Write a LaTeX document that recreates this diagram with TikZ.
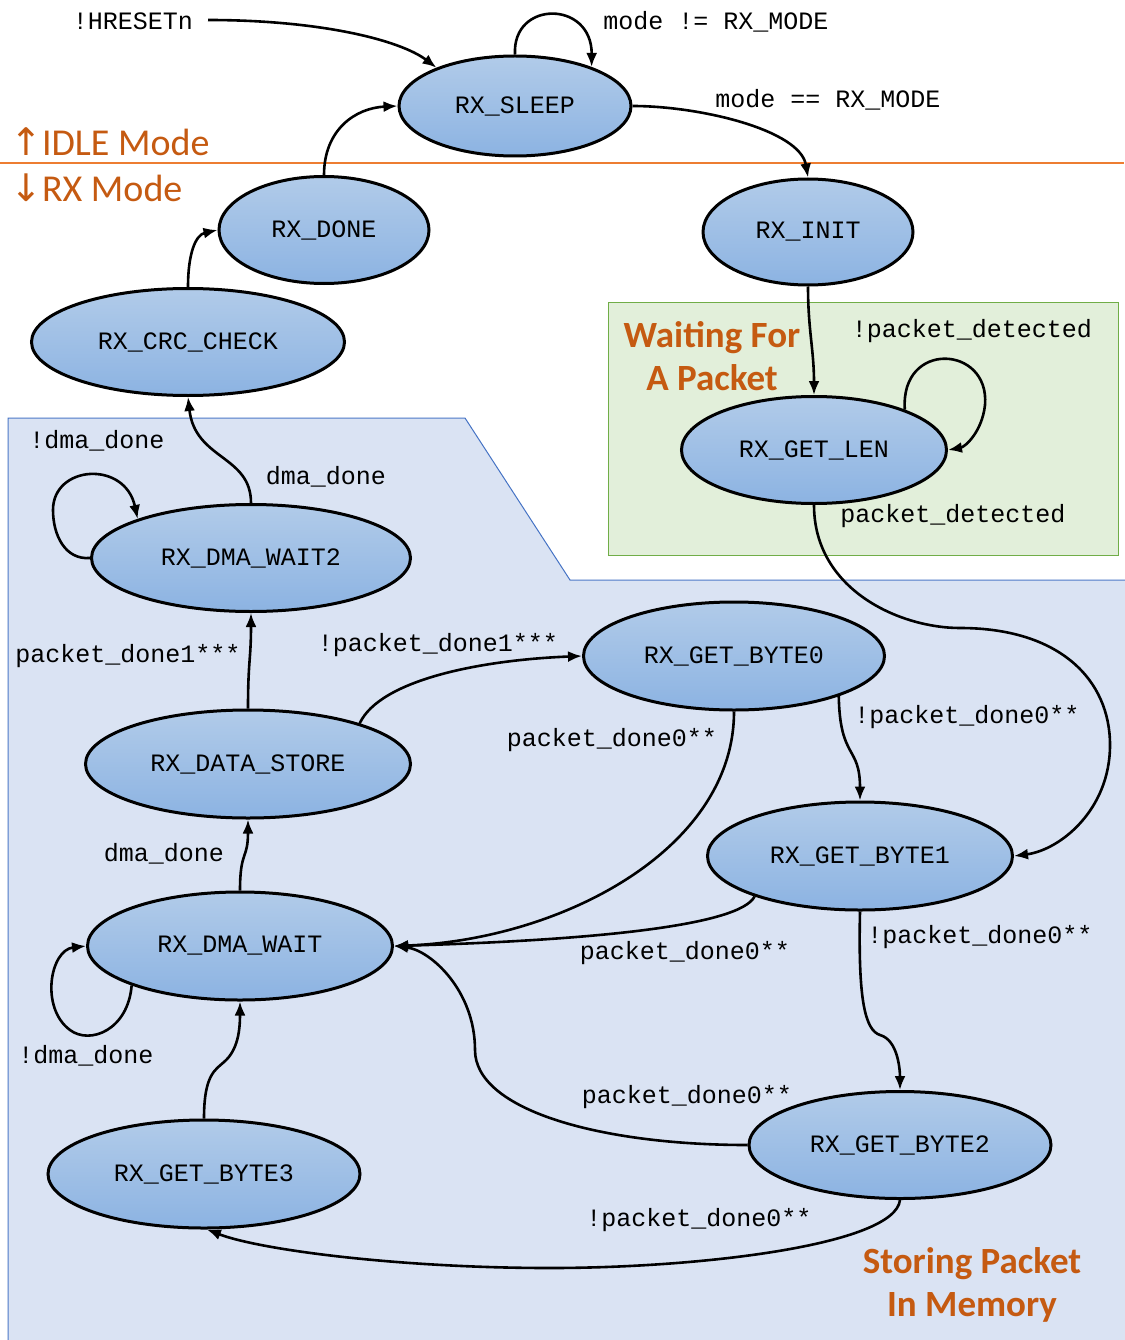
\documentclass[tikz,border=0pt]{standalone}
\usepackage{fontspec}
\setmainfont{Carlito}
\newfontfamily\monofont{Liberation Mono}
\newfontfamily\arrowfont{DejaVu Sans}
\usetikzlibrary{arrows.meta,shapes.geometric}
\definecolor{nodetop}{HTML}{B1CBE9}
\definecolor{nodebot}{HTML}{8CB3E2}
\definecolor{bluefill}{HTML}{DAE3F3}
\definecolor{blueedge}{HTML}{4472C4}
\definecolor{greenfill}{HTML}{E2EFDA}
\definecolor{greenedge}{HTML}{70AD47}
\definecolor{orangeline}{HTML}{ED7D31}
\definecolor{orangetxt}{HTML}{C55A11}
\tikzset{
  state/.style={ellipse, draw=black, line width=3pt, inner sep=0pt,
    top color=nodetop, bottom color=nodebot,
    font=\monofont\fontsize{25}{30}\selectfont},
  lbl/.style={font=\monofont\fontsize{25}{30}\selectfont, inner sep=0pt},
  edge/.style={line width=2.6pt, -{Latex[length=14pt,width=11pt]}},
  region/.style={font=\bfseries\fontsize{37}{45}\selectfont, text=orangetxt, inner sep=0pt, align=center},
  modetxt/.style={font=\fontsize{38}{46}\selectfont, text=orangetxt, inner sep=0pt, anchor=west}
}
\begin{document}
\begin{tikzpicture}[x=1pt,y=-1pt]
\useasboundingbox (0,0) rectangle (1124,1340);
% regions
\fill[bluefill] (8.5,418.5) -- (465,418.5) -- (570,580.5) -- (1125,580.5) -- (1125,1341) -- (8.5,1341) -- cycle;
\draw[draw=blueedge, line width=1pt] (8,1341) -- (8,418) -- (465,418) -- (570,580) -- (1125,580);
\draw[fill=greenfill, draw=greenedge, line width=1pt] (608,302) rectangle (1118,555);
\draw[orangeline, line width=2.5pt] (0,163) -- (1124,163);
\node[modetxt] (idle) at (10,142) {{\arrowfont\fontsize{38}{46}\selectfont ↑}IDLE Mode};
\node[modetxt] (rxm) at (10,188) {{\arrowfont\fontsize{38}{46}\selectfont ↓}RX Mode};
\node[region] (wait) at (712,356) {Waiting For\\[-2pt]A Packet};
\node[region] (store) at (972,1285) {Storing Packet\\[-2pt]In Memory};

% states
\node[state, minimum width=232pt, minimum height=100pt] (sleep) at (515,106) {RX\_SLEEP};
\node[state, minimum width=210pt, minimum height=106pt] (init) at (808,232) {RX\_INIT};
\node[state, minimum width=210pt, minimum height=107pt] (done) at (324,230) {RX\_DONE};
\node[state, minimum width=313pt, minimum height=107pt] (crc) at (188,342) {RX\_CRC\_CHECK};
\node[state, minimum width=265pt, minimum height=107pt] (len) at (814,450) {RX\_GET\_LEN};
\node[state, minimum width=319pt, minimum height=107pt] (dw2) at (251,558) {RX\_DMA\_WAIT2};
\node[state, minimum width=301pt, minimum height=108pt] (b0) at (734,656) {RX\_GET\_BYTE0};
\node[state, minimum width=325pt, minimum height=108pt] (ds) at (248,764) {RX\_DATA\_STORE};
\node[state, minimum width=305pt, minimum height=108pt] (b1) at (860,856) {RX\_GET\_BYTE1};
\node[state, minimum width=305pt, minimum height=108pt] (dw) at (240,946) {RX\_DMA\_WAIT};
\node[state, minimum width=302pt, minimum height=107pt] (b2) at (900,1145) {RX\_GET\_BYTE2};
\node[state, minimum width=312pt, minimum height=108pt] (b3) at (204,1174) {RX\_GET\_BYTE3};

% labels
\node[lbl] (l1) at (133,21) {!HRESETn};
\coordinate (hstart) at (208,20);
\node[lbl] (l2) at (716,22) {mode != RX\_MODE};
\node[lbl] (l3) at (828,100) {mode == RX\_MODE};
\node[lbl] (l4) at (972,331) {!packet\_detected};
\node[lbl] (l5) at (953,516) {packet\_detected};
\node[lbl] (l6) at (97,441) {!dma\_done};
\node[lbl] (l7) at (326,477) {dma\_done};
\node[lbl] (l8) at (128,656) {packet\_done1***};
\node[lbl] (l9) at (438,645) {!packet\_done1***};
\node[lbl] (l10) at (612,740) {packet\_done0**};
\node[lbl] (l11) at (967,717) {!packet\_done0**};
\node[lbl] (l12) at (164,854) {dma\_done};
\node[lbl] (l13) at (685,953) {packet\_done0**};
\node[lbl] (l14) at (980,937) {!packet\_done0**};
\node[lbl] (l15) at (86,1056) {!dma\_done};
\node[lbl] (l16) at (687,1097) {packet\_done0**};
\node[lbl] (l17) at (699,1220) {!packet\_done0**};

% edges
\draw[edge] (hstart) .. controls (320,20) and (400,40) .. (sleep.154);
\draw[edge] (sleep.90) .. controls (512,0) and (592,0) .. (sleep.27);
\draw[edge] (sleep.0) .. controls (700,106) and (800,130) .. (init.90);
\draw[edge] (done.90) .. controls (324,130) and (355,108) .. (sleep.180);
\draw[edge] (crc.90) .. controls (188,255) and (195,235) .. (done.180);
\draw[edge] (dw2.90) .. controls (251,455) and (195,460) .. (crc.270);
\draw[edge] (dw2.180) .. controls (65,560) and (53,535) .. (53,510) .. controls (53,465) and (125,460) .. (dw2.161);
\draw[edge] (init.270) .. controls (808,330) and (814,350) .. (len.90);
\draw[edge] (len.24) .. controls (900,340) and (990,345) .. (985,405) .. controls (982,432) and (965,447) .. (len.0);
\draw[edge] (len.270) .. controls (814,590) and (900,628) .. (960,628) .. controls (1060,628) and (1110,680) .. (1110,745) .. controls (1110,810) and (1060,850) .. (b1.0);
\draw[edge] (ds.90) .. controls (248,660) and (251,660) .. (dw2.270);
\draw[edge] (ds.20) .. controls (380,680) and (480,660) .. (b0.180);
\draw[edge] (b0.270) .. controls (734,850) and (560,940) .. (dw.0);
\draw[edge] (b0.-21) .. controls (840,760) and (860,745) .. (b1.90);
\draw[edge] (b1.201) .. controls (740,925) and (600,940) .. (dw.0);
\draw[edge] (b1.270) .. controls (858,1000) and (865,1030) .. (880,1035) .. controls (898,1040) and (900,1070) .. (b2.90);
\draw[edge] (b2.180) .. controls (600,1145) and (475,1110) .. (475,1050) .. controls (475,990) and (430,950) .. (dw.0);
\draw[edge] (b2.270) .. controls (895,1245) and (700,1268) .. (550,1268) .. controls (400,1268) and (260,1250) .. (b3.-87);
\draw[edge] (dw.90) .. controls (240,850) and (248,860) .. (ds.270);
\draw[edge] (dw.200) .. controls (128,1030) and (90,1045) .. (70,1030) .. controls (40,1008) and (50,950) .. (dw.180);
\draw[edge] (b3.90) .. controls (204,1075) and (215,1070) .. (224,1062) .. controls (238,1050) and (240,1030) .. (dw.270);
\end{tikzpicture}
\end{document}
